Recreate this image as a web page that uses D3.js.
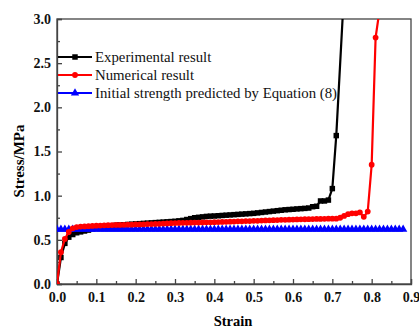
<!DOCTYPE html>
<html>
<head>
<meta charset="utf-8">
<script src="https://cdn.jsdelivr.net/npm/d3@7"></script>
<style>
  body { margin: 0; background: #fff; }
  .axis text { font-family: "Liberation Serif", "Times New Roman", serif; font-weight: bold; font-size: 14px; fill: #111; }
  .axis path, .axis line { stroke: #444; stroke-width: 1.3; }
</style>
</head>
<body>
<div id="chart"></div>
<script>
// Experimental result (black squares)
var expStrain = [0.00, 0.01, 0.02, 0.03, 0.04, 0.05, 0.06, 0.07, 0.08, 0.09,
  0.10, 0.11, 0.12, 0.13, 0.14, 0.15, 0.16, 0.17, 0.18, 0.19,
  0.20, 0.21, 0.22, 0.23, 0.24, 0.25, 0.26, 0.27, 0.28, 0.29,
  0.30, 0.31, 0.32, 0.33, 0.34, 0.35, 0.36, 0.37, 0.38, 0.39,
  0.40, 0.41, 0.42, 0.43, 0.44, 0.45, 0.46, 0.47, 0.48, 0.49,
  0.50, 0.51, 0.52, 0.53, 0.54, 0.55, 0.56, 0.57, 0.58, 0.59,
  0.60, 0.61, 0.62, 0.63, 0.64, 0.65, 0.66, 0.67, 0.68, 0.69,
  0.70, 0.71, 0.73];
var expStress = [0.00, 0.30, 0.46, 0.53, 0.56, 0.58, 0.59, 0.60, 0.61, 0.625,
  0.635, 0.645, 0.65, 0.655, 0.66, 0.665, 0.668, 0.671, 0.674, 0.677,
  0.68, 0.683, 0.686, 0.689, 0.692, 0.695, 0.698, 0.701, 0.704, 0.707,
  0.71, 0.715, 0.72, 0.73, 0.74, 0.75, 0.755, 0.76, 0.765, 0.768,
  0.77, 0.773, 0.776, 0.779, 0.782, 0.785, 0.788, 0.791, 0.794, 0.797,
  0.80, 0.805, 0.81, 0.815, 0.82, 0.825, 0.83, 0.835, 0.84, 0.843,
  0.846, 0.85, 0.853, 0.856, 0.86, 0.875, 0.88, 0.94, 0.94, 0.95,
  1.08, 1.68, 3.33];

// Numerical result (red circles)
var numStrain = [0.00, 0.01, 0.02, 0.03, 0.04, 0.05, 0.06, 0.07, 0.08, 0.09,
  0.10, 0.11, 0.12, 0.13, 0.14, 0.15, 0.16, 0.17, 0.18, 0.19,
  0.20, 0.21, 0.22, 0.23, 0.24, 0.25, 0.26, 0.27, 0.28, 0.29,
  0.30, 0.31, 0.32, 0.33, 0.34, 0.35, 0.36, 0.37, 0.38, 0.39,
  0.40, 0.41, 0.42, 0.43, 0.44, 0.45, 0.46, 0.47, 0.48, 0.49,
  0.50, 0.51, 0.52, 0.53, 0.54, 0.55, 0.56, 0.57, 0.58, 0.59,
  0.60, 0.61, 0.62, 0.63, 0.64, 0.65, 0.66, 0.67, 0.68, 0.69,
  0.70, 0.71, 0.72, 0.73, 0.74, 0.75, 0.76, 0.77, 0.78, 0.79,
  0.80, 0.81, 0.82];
var numStress = [0.00, 0.36, 0.51, 0.59, 0.63, 0.645, 0.65, 0.652, 0.655, 0.658,
  0.66, 0.662, 0.664, 0.666, 0.667, 0.668, 0.669, 0.67, 0.671, 0.672,
  0.674, 0.675, 0.676, 0.678, 0.679, 0.68, 0.682, 0.684, 0.686, 0.688,
  0.69, 0.691, 0.692, 0.693, 0.694, 0.695, 0.696, 0.697, 0.698, 0.699,
  0.70, 0.701, 0.703, 0.704, 0.706, 0.707, 0.709, 0.71, 0.712, 0.713,
  0.715, 0.716, 0.718, 0.72, 0.721, 0.723, 0.724, 0.726, 0.727, 0.728,
  0.73, 0.731, 0.732, 0.733, 0.734, 0.735, 0.736, 0.737, 0.738, 0.739,
  0.74, 0.74, 0.75, 0.77, 0.79, 0.80, 0.80, 0.81, 0.76, 0.82,
  1.35, 2.79, 3.10];

// Initial strength predicted by Equation (8) (blue triangles)
var predStrain = [0.00, 0.01, 0.02, 0.03, 0.04, 0.05, 0.06, 0.07, 0.08, 0.09,
  0.10, 0.11, 0.12, 0.13, 0.14, 0.15, 0.16, 0.17, 0.18, 0.19,
  0.20, 0.21, 0.22, 0.23, 0.24, 0.25, 0.26, 0.27, 0.28, 0.29,
  0.30, 0.31, 0.32, 0.33, 0.34, 0.35, 0.36, 0.37, 0.38, 0.39,
  0.40, 0.41, 0.42, 0.43, 0.44, 0.45, 0.46, 0.47, 0.48, 0.49,
  0.50, 0.51, 0.52, 0.53, 0.54, 0.55, 0.56, 0.57, 0.58, 0.59,
  0.60, 0.61, 0.62, 0.63, 0.64, 0.65, 0.66, 0.67, 0.68, 0.69,
  0.70, 0.71, 0.72, 0.73, 0.74, 0.75, 0.76, 0.77, 0.78, 0.79,
  0.80, 0.81, 0.82, 0.83, 0.84, 0.85, 0.86, 0.87, 0.88];
var predStress = [0.62, 0.62, 0.62, 0.62, 0.62, 0.62, 0.62, 0.62, 0.62, 0.62,
  0.62, 0.62, 0.62, 0.62, 0.62, 0.62, 0.62, 0.62, 0.62, 0.62,
  0.62, 0.62, 0.62, 0.62, 0.62, 0.62, 0.62, 0.62, 0.62, 0.62,
  0.62, 0.62, 0.62, 0.62, 0.62, 0.62, 0.62, 0.62, 0.62, 0.62,
  0.62, 0.62, 0.62, 0.62, 0.62, 0.62, 0.62, 0.62, 0.62, 0.62,
  0.62, 0.62, 0.62, 0.62, 0.62, 0.62, 0.62, 0.62, 0.62, 0.62,
  0.62, 0.62, 0.62, 0.62, 0.62, 0.62, 0.62, 0.62, 0.62, 0.62,
  0.62, 0.62, 0.62, 0.62, 0.62, 0.62, 0.62, 0.62, 0.62, 0.62,
  0.62, 0.62, 0.62, 0.62, 0.62, 0.62, 0.62, 0.62, 0.62];

var xTicks = [0.0, 0.1, 0.2, 0.3, 0.4, 0.5, 0.6, 0.7, 0.8, 0.9];
var xMinor = [0.05, 0.15, 0.25, 0.35, 0.45, 0.55, 0.65, 0.75, 0.85];
var yTicks = [0.0, 0.5, 1.0, 1.5, 2.0, 2.5, 3.0];
var yMinor = [0.25, 0.75, 1.25, 1.75, 2.25, 2.75];

var series = [
  {name: "Experimental result", color: "#000000", shape: d3.symbolSquare, size: 30, strain: expStrain, stress: expStress},
  {name: "Numerical result", color: "#ff0000", shape: d3.symbolCircle, size: 26, strain: numStrain, stress: numStress},
  {name: "Initial strength predicted by Equation (8)", color: "#0000ff", shape: d3.symbolTriangle, size: 30, strain: predStrain, stress: predStress}
];

// Setting the dimensions for the graph
var margin = {top: 19, right: 8, bottom: 46, left: 57},
    width = 419 - margin.left - margin.right,
    height = 330 - margin.top - margin.bottom;

var svg = d3.select("#chart")
    .append("svg")
    .attr("width", 419)
    .attr("height", 330)
    .append("g")
    .attr("transform", `translate(${margin.left},${margin.top})`);

var x = d3.scaleLinear().domain([0, 0.9]).range([0, width]);
var y = d3.scaleLinear().domain([0, 3.0]).range([height, 0]);

svg.append("clipPath").attr("id", "plot-clip")
    .append("rect")
    .attr("width", width)
    .attr("height", height);

// frame (top and right)
svg.append("rect")
    .attr("width", width)
    .attr("height", height)
    .attr("fill", "none")
    .attr("stroke", "#444")
    .attr("stroke-width", 1.3);

// minor ticks
svg.append("g")
    .attr("class", "axis")
    .attr("transform", `translate(0,${height})`)
    .call(d3.axisBottom(x).tickValues(xMinor).tickSize(-3).tickFormat(""))
    .call(g => g.select(".domain").remove());
svg.append("g")
    .attr("class", "axis")
    .call(d3.axisLeft(y).tickValues(yMinor).tickSize(-3).tickFormat(""))
    .call(g => g.select(".domain").remove());

// major axes
svg.append("g")
    .attr("class", "axis")
    .attr("transform", `translate(0,${height})`)
    .call(d3.axisBottom(x).tickValues(xTicks).tickSize(-5).tickPadding(8).tickFormat(d3.format(".1f")));
svg.append("g")
    .attr("class", "axis")
    .call(d3.axisLeft(y).tickValues(yTicks).tickSize(-5).tickPadding(6).tickFormat(d3.format(".1f")));

// lines and markers: black, then blue, then red on top
var line = d3.line().x(d => x(d[0])).y(d => y(d[1]));
var plot = svg.append("g").attr("clip-path", "url(#plot-clip)");

[series[0], series[2], series[1]].forEach(function(s) {
    var pts = s.strain.map((v, i) => [v, s.stress[i]]);
    plot.append("path")
        .datum(pts)
        .attr("fill", "none")
        .attr("stroke", s.color)
        .attr("stroke-width", 2.2)
        .attr("d", line);
    plot.selectAll(null)
        .data(pts)
        .join("path")
        .attr("transform", d => `translate(${x(d[0])},${y(d[1])})`)
        .attr("d", d3.symbol().type(s.shape).size(s.size))
        .attr("fill", s.color);
});

// legend
var legend = svg.append("g").attr("transform", "translate(1,38)");
series.forEach(function(s, i) {
    var g = legend.append("g").attr("transform", `translate(0,${i * 18})`);
    g.append("line")
        .attr("x1", 0).attr("x2", 34)
        .attr("stroke", s.color)
        .attr("stroke-width", 2.2);
    g.append("path")
        .attr("transform", "translate(17,0)")
        .attr("d", d3.symbol().type(s.shape).size(s.size))
        .attr("fill", s.color);
    g.append("text")
        .attr("x", 37)
        .attr("y", 5)
        .style("font-family", "'Liberation Serif', 'Times New Roman', serif")
        .style("font-size", "14.8px")
        .attr("fill", "#111")
        .text(s.name);
});

// x-axis label
svg.append("text")
    .attr("x", 233 - margin.left)
    .attr("y", 326 - margin.top)
    .attr("text-anchor", "middle")
    .style("font-family", "'Liberation Serif', 'Times New Roman', serif")
    .style("font-size", "14.5px")
    .style("font-weight", "bold")
    .text("Strain");

// y-axis label
svg.append("text")
    .attr("transform", "rotate(-90)")
    .attr("x", -(161 - margin.top))
    .attr("y", 24 - margin.left)
    .attr("text-anchor", "middle")
    .style("font-family", "'Liberation Serif', 'Times New Roman', serif")
    .style("font-size", "15px")
    .style("font-weight", "bold")
    .text("Stress/MPa");
</script>
</body>
</html>
